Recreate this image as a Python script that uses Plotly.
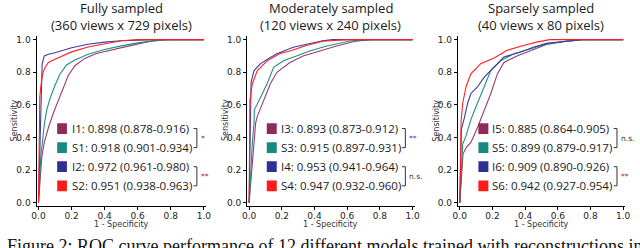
import plotly.graph_objects as go

# ---------------- data ----------------
titles = ["Fully sampled", "Moderately sampled", "Sparsely sampled"]
subtitles = ["(360 views x 729 pixels)", "(120 views x 240 pixels)", "(40 views x 80 pixels)"]
x_ticks = [0.0, 0.2, 0.4, 0.6, 0.8, 1.0]
y_ticks = [0.0, 0.2, 0.4, 0.6, 0.8, 1.0]
x_title = "1 - Specificity"
y_title = "Sensitivity"

models = [["I1", "S1", "I2", "S2"], ["I3", "S3", "I4", "S4"], ["I5", "S5", "I6", "S6"]]
auc = [[0.898, 0.918, 0.972, 0.951], [0.893, 0.915, 0.953, 0.947], [0.885, 0.899, 0.909, 0.942]]
ci_lo = [[0.878, 0.901, 0.961, 0.938], [0.873, 0.897, 0.941, 0.932], [0.864, 0.879, 0.890, 0.927]]
ci_hi = [[0.916, 0.934, 0.980, 0.963], [0.912, 0.931, 0.964, 0.960], [0.905, 0.917, 0.926, 0.954]]
signif = [["*", "**"], ["**", "n.s."], ["n.s.", "**"]]

# Fully sampled
fpr_I1 = [0, 0.01, 0.02, 0.035, 0.06, 0.09, 0.12, 0.15, 0.18, 0.22, 0.28, 0.35, 0.45, 0.55, 0.65, 0.75, 1.0]
tpr_I1 = [0, 0.15, 0.28, 0.37, 0.46, 0.55, 0.63, 0.71, 0.78, 0.84, 0.885, 0.915, 0.94, 0.962, 0.985, 1.0, 1.0]
fpr_S1 = [0, 0.008, 0.015, 0.025, 0.035, 0.05, 0.07, 0.1, 0.13, 0.17, 0.22, 0.3, 0.4, 0.5, 0.6, 0.7, 0.8, 1.0]
tpr_S1 = [0, 0.2, 0.3, 0.38, 0.48, 0.57, 0.64, 0.72, 0.79, 0.845, 0.875, 0.91, 0.94, 0.962, 0.98, 0.993, 1.0, 1.0]
fpr_I2 = [0, 0.005, 0.01, 0.012, 0.016, 0.022, 0.035, 0.06, 0.1, 0.15, 0.2, 0.3, 0.4, 0.5, 0.7, 1.0]
tpr_I2 = [0, 0.2, 0.45, 0.6, 0.75, 0.85, 0.9, 0.91, 0.92, 0.935, 0.95, 0.972, 0.985, 0.993, 1.0, 1.0]
fpr_S2 = [0, 0.003, 0.005, 0.008, 0.015, 0.025, 0.04, 0.06, 0.1, 0.15, 0.2, 0.3, 0.4, 0.5, 0.6, 1.0]
tpr_S2 = [0, 0.3, 0.55, 0.65, 0.72, 0.79, 0.83, 0.86, 0.88, 0.905, 0.925, 0.955, 0.975, 0.993, 1.0, 1.0]

# Moderately sampled
fpr_I3 = [0, 0.015, 0.03, 0.04, 0.05, 0.09, 0.13, 0.17, 0.25, 0.33, 0.43, 0.53, 0.65, 0.75, 1.0]
tpr_I3 = [0, 0.2, 0.37, 0.49, 0.53, 0.63, 0.73, 0.8, 0.86, 0.9, 0.93, 0.96, 0.99, 1.0, 1.0]
fpr_S3 = [0, 0.01, 0.02, 0.03, 0.032, 0.072, 0.11, 0.15, 0.21, 0.29, 0.37, 0.47, 0.61, 0.7, 1.0]
tpr_S3 = [0, 0.2, 0.37, 0.49, 0.57, 0.65, 0.73, 0.83, 0.87, 0.9, 0.93, 0.96, 0.99, 1.0, 1.0]
fpr_I4 = [0, 0.004, 0.008, 0.012, 0.03, 0.07, 0.12, 0.17, 0.27, 0.37, 0.45, 0.51, 1.0]
tpr_I4 = [0, 0.3, 0.6, 0.74, 0.81, 0.853, 0.885, 0.913, 0.953, 0.974, 0.993, 1.0, 1.0]
fpr_S4 = [0, 0.002, 0.005, 0.02, 0.05, 0.11, 0.19, 0.25, 0.35, 0.45, 0.6, 1.0]
tpr_S4 = [0, 0.3, 0.63, 0.73, 0.81, 0.87, 0.915, 0.93, 0.964, 0.99, 1.0, 1.0]

# Sparsely sampled
fpr_I5 = [0, 0.01, 0.02, 0.04, 0.068, 0.108, 0.15, 0.19, 0.23, 0.27, 0.35, 0.43, 0.53, 0.65, 0.75, 1.0]
tpr_I5 = [0, 0.15, 0.3, 0.34, 0.37, 0.46, 0.57, 0.67, 0.79, 0.86, 0.9, 0.933, 0.97, 0.99, 1.0, 1.0]
fpr_S5 = [0, 0.008, 0.018, 0.038, 0.068, 0.108, 0.15, 0.19, 0.25, 0.33, 0.43, 0.53, 0.65, 0.75, 1.0]
tpr_S5 = [0, 0.2, 0.36, 0.41, 0.51, 0.61, 0.71, 0.81, 0.87, 0.913, 0.943, 0.974, 0.99, 1.0, 1.0]
fpr_I6 = [0, 0.005, 0.01, 0.028, 0.048, 0.068, 0.108, 0.15, 0.21, 0.27, 0.37, 0.45, 0.53, 0.65, 0.75, 1.0]
tpr_I6 = [0, 0.25, 0.45, 0.52, 0.61, 0.67, 0.71, 0.77, 0.83, 0.893, 0.923, 0.953, 0.977, 0.99, 1.0, 1.0]
fpr_S6 = [0, 0.003, 0.008, 0.018, 0.038, 0.068, 0.128, 0.21, 0.29, 0.39, 0.47, 0.55, 1.0]
tpr_S6 = [0, 0.3, 0.5, 0.61, 0.71, 0.79, 0.853, 0.888, 0.935, 0.964, 0.985, 1.0, 1.0]

curves = [
    [(fpr_I1, tpr_I1), (fpr_S1, tpr_S1), (fpr_I2, tpr_I2), (fpr_S2, tpr_S2)],
    [(fpr_I3, tpr_I3), (fpr_S3, tpr_S3), (fpr_I4, tpr_I4), (fpr_S4, tpr_S4)],
    [(fpr_I5, tpr_I5), (fpr_S5, tpr_S5), (fpr_I6, tpr_I6), (fpr_S6, tpr_S6)],
]

caption = "Figure 2: ROC curve performance of 12 different models trained with reconstructions in sparse-view"

# ---------------- style ----------------
colors = ["#8e2a5b", "#178a80", "#2e3192", "#ff1a1a"]
line_colors = ["#9c3a6a", "#1a9088", "#3a3ea0", "#ff2020"]
sig_pair_colors = [["#2f4f9f", "#a03040"], ["#2f4f9f", "#333333"], ["#333333", "#a03040"]]

W, H = 640, 248
x_domains = [[32 / W, 204 / W], [246 / W, 416 / W], [460 / W, 630 / W]]
y_domain = [1 - 207.7 / H, 1 - 35 / H]
x_range = [-0.012, 1.012]
y_range = [-0.021, 1.025]

row_y = [0.455, 0.338, 0.221, 0.104]
sq_x = [[0.113, 0.172], [0.108, 0.169], [0.114, 0.175]]
txt_x = [0.188, 0.185, 0.187]
br_x = [0.958, 0.956, 0.962]
sq_h = 0.066

fig = go.Figure()
shapes = []
annotations = []

for p in range(3):
    xa = "x" if p == 0 else f"x{p + 1}"
    ya = "y" if p == 0 else f"y{p + 1}"
    for m in range(4):
        fx, ty = curves[p][m]
        fig.add_trace(go.Scatter(x=fx, y=ty, mode="lines", xaxis=xa, yaxis=ya,
                                 line=dict(color=line_colors[m], width=1.1),
                                 showlegend=False, hoverinfo="skip"))
    axis_common = dict(showline=True, linecolor="black", linewidth=1, ticks="outside",
                       ticklen=3, tickwidth=1, tickcolor="black", showgrid=False,
                       zeroline=False, tickformat=".1f",
                       tickfont=dict(family="DejaVu Sans", size=9, color="#222"))
    fig.update_layout(**{
        ("xaxis" if p == 0 else f"xaxis{p + 1}"): dict(domain=x_domains[p], range=x_range,
                                                       tickvals=x_ticks, anchor=ya,
                                                       ticklabelstandoff=-2, **axis_common),
        ("yaxis" if p == 0 else f"yaxis{p + 1}"): dict(domain=y_domain, range=y_range,
                                                       tickvals=y_ticks, anchor=xa, **axis_common),
    })
    # legend squares + text
    for m in range(4):
        shapes.append(dict(type="rect", xref=xa, yref=ya, x0=sq_x[p][0], x1=sq_x[p][1],
                           y0=row_y[m] - sq_h / 2, y1=row_y[m] + sq_h / 2,
                           fillcolor=colors[m], line=dict(width=0)))
        annotations.append(dict(xref=xa, yref=ya, x=txt_x[p], y=row_y[m], xanchor="left",
                                yanchor="middle", showarrow=False,
                                text=f"{models[p][m]}: {auc[p][m]:.3f} ({ci_lo[p][m]:.3f}-{ci_hi[p][m]:.3f})",
                                font=dict(family="Open Sans", size=11.5, color="#1a1a1a")))
    # brackets
    tick = 0.02
    for k in range(2):
        y1, y2 = row_y[2 * k], row_y[2 * k + 1]
        bx = br_x[p]
        shapes.append(dict(type="path", xref=xa, yref=ya,
                           path=f"M {bx - tick},{y1} L {bx},{y1} L {bx},{y2} L {bx - tick},{y2}",
                           line=dict(color="#333", width=1)))
        annotations.append(dict(xref=xa, yref=ya, x=bx + 0.012, y=(y1 + y2) / 2, xanchor="left",
                                yanchor="middle", showarrow=False, text=signif[p][k],
                                font=dict(family="DejaVu Sans", size=7.5, color=sig_pair_colors[p][k])))
    # titles
    annotations.append(dict(xref=xa, yref="paper", x=0.5, y=1 - 7.5 / H, yanchor="middle",
                            showarrow=False, text=titles[p],
                            font=dict(family="Open Sans", size=13, color="#1a1a1a")))
    annotations.append(dict(xref=xa, yref="paper", x=0.5, y=1 - 24 / H, yanchor="middle",
                            showarrow=False, text=subtitles[p],
                            font=dict(family="Open Sans", size=13, color="#1a1a1a")))
    # axis titles
    annotations.append(dict(xref=xa, yref="paper", x=0.5, y=1 - 226.5 / H, yanchor="middle",
                            showarrow=False, text=x_title,
                            font=dict(family="DejaVu Sans", size=8, color="#333")))
    annotations.append(dict(xref="paper", yref="paper", x=(x_domains[p][0] * W - 22) / W,
                            y=1 - 121 / H, yanchor="middle", xanchor="center", textangle=-90,
                            showarrow=False, text=y_title,
                            font=dict(family="DejaVu Sans", size=8, color="#333")))

annotations.append(dict(xref="paper", yref="paper", x=0, y=1 - 236 / H, xanchor="left",
                        yanchor="top", showarrow=False, text=caption,
                        font=dict(family="Liberation Serif", size=18, color="#111")))

fig.update_layout(width=W, height=H, margin=dict(l=0, r=0, t=0, b=0),
                  paper_bgcolor="white", plot_bgcolor="white",
                  shapes=shapes, annotations=annotations, showlegend=False)

fig.write_html("out.html", config={"displayModeBar": False},
               post_script="document.body.style.margin='0';document.body.style.overflow='hidden';")
